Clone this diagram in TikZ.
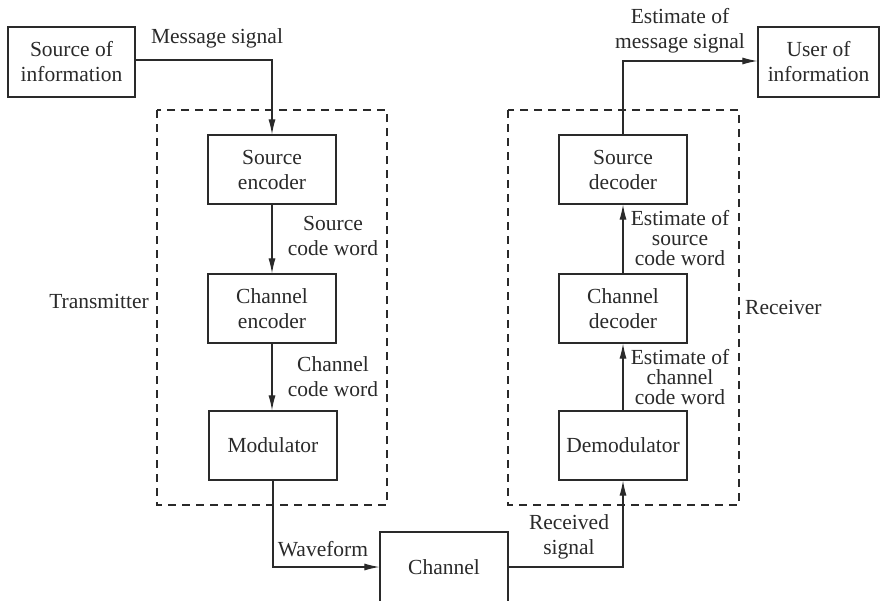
\documentclass[tikz,border=0pt]{standalone}
\usepackage{fontspec}
\setmainfont{Liberation Serif}
\usetikzlibrary{arrows.meta}
\definecolor{ink}{HTML}{2A2A2A}
\begin{document}
\begin{tikzpicture}[x=1pt,y=-1pt,
  every node/.style={text=ink,font=\fontsize{21.5}{25}\selectfont,inner sep=0pt},
  blk/.style={draw=ink,line width=1.2pt,align=center},
  lbl/.style={align=center},
  tight/.style={align=center,font=\fontsize{21.5}{20}\selectfont},
  grp/.style={draw=ink,line width=1.1pt,dash pattern=on 8pt off 6pt},
  conn/.style={draw=ink,line width=1.1pt,-{Latex[length=15pt,width=7pt]}},
  plain/.style={draw=ink,line width=1.1pt}]
\useasboundingbox (0,0) rectangle (880,600);
\clip (0,0) rectangle (880,600);
\fill[white] (0,0) rectangle (880,600);
% groups
\draw[grp] (157,110) rectangle (387,505);
\draw[grp] (508,110) rectangle (739,505);
% blocks
\node[blk,minimum width=127pt,minimum height=70pt] (src) at (71.5,62) {Source of\\information};
\node[blk,minimum width=121pt,minimum height=70pt] (usr) at (818.5,62) {User of\\information};
\node[blk,minimum width=128pt,minimum height=69pt] (senc) at (272,169.5) {Source\\encoder};
\node[blk,minimum width=128pt,minimum height=69pt] (cenc) at (272,308.5) {Channel\\encoder};
\node[blk,minimum width=128pt,minimum height=69pt] (mod) at (273,445.5) {Modulator};
\node[blk,minimum width=128pt,minimum height=69pt] (sdec) at (623,169.5) {Source\\decoder};
\node[blk,minimum width=128pt,minimum height=69pt] (cdec) at (623,308.5) {Channel\\decoder};
\node[blk,minimum width=128pt,minimum height=69pt] (dem) at (623,445.5) {Demodulator};
\node[blk,minimum width=128pt,minimum height=70pt] (chan) at (444,567) {Channel};
% coordinates
\coordinate (c1) at (272,60);
\coordinate (c2) at (273,567);
\coordinate (c3) at (623,567);
\coordinate (c4) at (623,61);
% connectors
\draw[conn] (src.east |- c1) -- (c1) -- (senc.north);
\draw[conn] (senc.south) -- (cenc.north);
\draw[conn] (cenc.south) -- (cenc.south |- mod.north);
\draw[conn] (mod.south) -- (c2) -- (chan.west);
\draw[conn] (chan.east) -- (c3) -- (dem.south);
\draw[conn] (dem.north) -- (cdec.south);
\draw[conn] (cdec.north) -- (sdec.south);
\draw[conn] (sdec.north) -- (c4) -- (usr.west |- c4);
% labels
\node[lbl] (lmsg) at (217,38) {Message signal};
\node[lbl] (lscw) at (333,236) {Source\\code word};
\node[lbl] (lccw) at (333,377) {Channel\\code word};
\node[lbl] (lwav) at (323,549) {Waveform};
\node[lbl] (lrec) at (569,537) {Received\\signal};
\node[tight] (lecw) at (680,377) {Estimate of\\channel\\code word};
\node[tight] (lesw) at (680,238) {Estimate of\\source\\code word};
\node[lbl] (lems) at (680,31) {Estimate of\\message signal};
\node[anchor=east] (ltx) at (149,301) {Transmitter};
\node[anchor=west] (lrx) at (745,307) {Receiver};
\end{tikzpicture}
\end{document}
